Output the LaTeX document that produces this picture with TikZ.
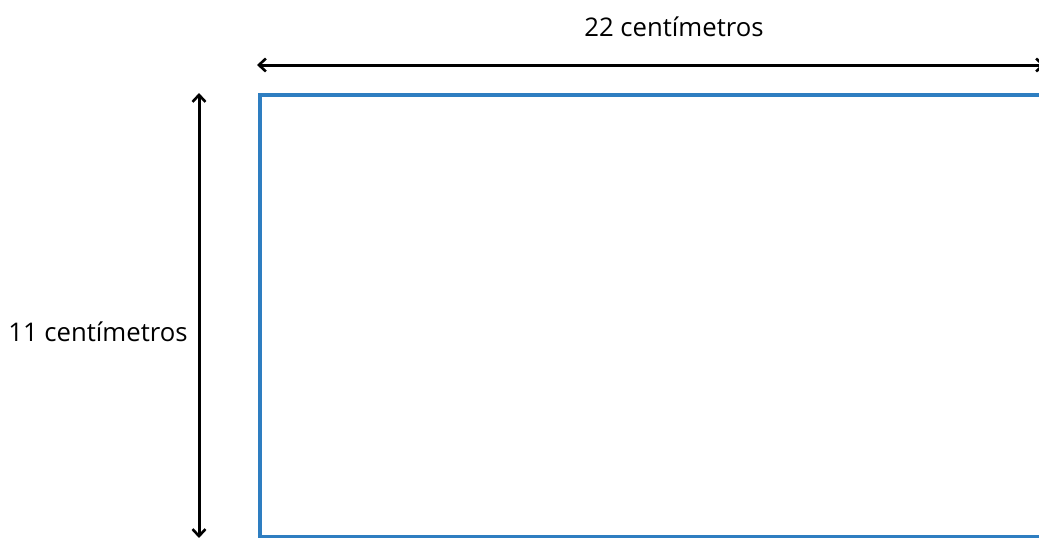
\documentclass[tikz,border=0pt]{standalone}
\usepackage{fontspec}
\setmainfont{Open Sans}
\usetikzlibrary{arrows.meta}
\begin{document}
\begin{tikzpicture}[x=1pt,y=-1pt,
  dim/.style={line width=3pt,{Straight Barb[length=7pt,width=13pt,line width=2.6pt]}-{Straight Barb[length=7pt,width=13pt,line width=2.6pt]}},
  lbl/.style={font=\fontsize{25.7}{28}\selectfont,inner sep=0pt},
  frame/.style={draw={rgb,255:red,46;green,126;blue,193},line width=4pt}]
\useasboundingbox (0,0) rectangle (1039,538);
\draw[frame] (260,95) rectangle (1060,536.5);
\coordinate (hl) at (257,65);
\coordinate (hr) at (1045,65);
\draw[dim] (hl) -- (hr);
\coordinate (vt) at (199,93);
\coordinate (vb) at (199,538);
\draw[dim] (vt) -- (vb);
\node[lbl] (wlab) at (674,27) {22 centímetros};
\node[lbl] (hlab) at (98,332) {11 centímetros};
\end{tikzpicture}
\end{document}
